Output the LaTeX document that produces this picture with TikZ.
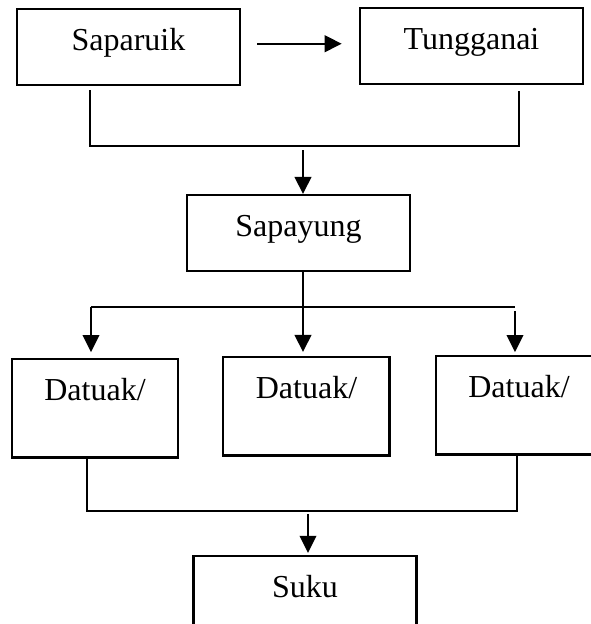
\documentclass[tikz,border=0pt]{standalone}
\usepackage{fontspec}
\setmainfont{Liberation Serif}
\usetikzlibrary{arrows.meta}

\begin{document}
\begin{tikzpicture}[x=0.375pt, y=-0.375pt,
		box/.style={draw, line width=0.9pt, anchor=north, inner sep=0pt, text height=15.4pt, text depth=13.1pt, minimum width=83.6pt, font=\fontsize{12}{14}\selectfont},
		tallbox/.style={box, text depth=21.4pt, minimum width=62.4pt},
		line/.style={line width=0.8pt},
		arr/.style={line, -{Triangle[length=6.4pt, width=6.2pt]}}]
		\useasboundingbox (0, 0) rectangle (591, 624);
		\node[box] (saparuik) at (128.5, 8) {Saparuik};
		\node[box] (tungganai) at (471.5, 7) {Tungganai};
		\node[box] (sapayung) at (298.5, 194) {Sapayung};
		\node[tallbox] (datuak1) at (95, 358) {Datuak/};
		\node[tallbox] (datuak2) at (306.5, 356) {Datuak/};
		\node[tallbox] (datuak3) at (519, 355) {Datuak/};
		\node[box, text depth=17pt] (suku) at (305, 555) {Suku};
		\coordinate (busA) at (90, 146);
		\coordinate (busB) at (519, 146);
		\coordinate (busmid) at (303, 146);
		\coordinate (midL) at (91, 307);
		\coordinate (midR) at (515, 307);
		\coordinate (midbus) at (303, 307);
		\coordinate (lowL) at (87, 511);
		\coordinate (lowR) at (517, 511);
		\coordinate (lowbus) at (308, 511);
		\draw[arr, shorten <=6pt, shorten >=6.4pt] ([yshift=1.3pt]saparuik.east) -- ([yshift=1.3pt]saparuik.east -| tungganai.west);
		\draw[line, shorten <=1.5pt, shorten >=2.2pt] (busA |- saparuik.south) -- (busA) -- (busB) -- (busB |- tungganai.south);
		\draw[arr, shorten <=1.5pt] (busmid) -- (busmid |- sapayung.north);
		\draw[line] (midbus |- sapayung.south) -- (midbus);
		\draw[line] (midL) -- (midR);
		\draw[arr, shorten >=2.2pt] (midL) -- (midL |- datuak1.north);
		\draw[arr, shorten >=1.5pt] (midbus) -- (midbus |- datuak2.north);
		\draw[arr, shorten <=1.5pt, shorten >=1.1pt] (midR) -- (midR |- datuak3.north);
		\draw[line] (lowL |- datuak1.south) -- (lowL) -- (lowR) -- (lowR |- datuak3.south);
		\draw[arr, shorten <=1.2pt, shorten >=0.8pt] (lowbus) -- (lowbus |- suku.north);
	\end{tikzpicture}
\end{document}
